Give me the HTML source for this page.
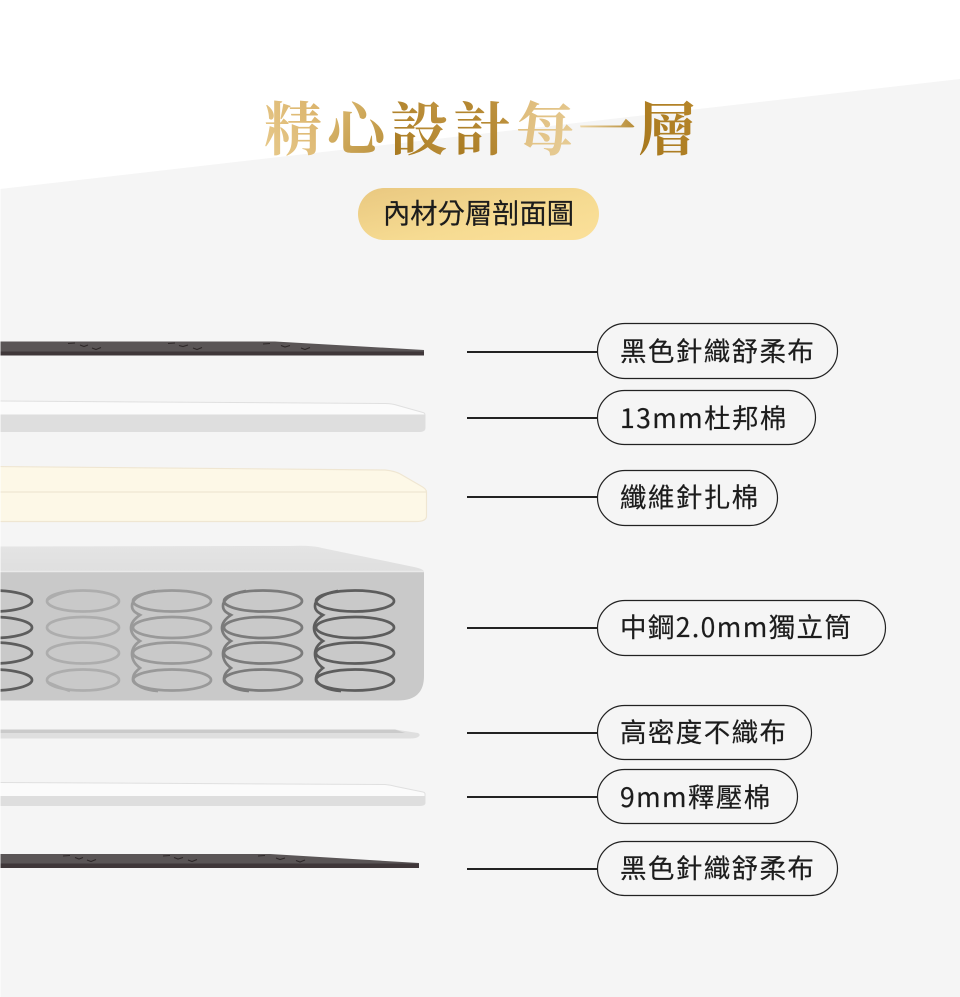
<!DOCTYPE html>
<html lang="zh-Hant"><head><meta charset="utf-8"><style>
html,body{margin:0;padding:0;background:#fff;width:960px;height:997px;overflow:hidden}
svg{display:block}
.l{font-family:"Noto Sans CJK TC","Liberation Sans",sans-serif;font-size:26.5px;font-weight:400;letter-spacing:1.400px;fill:#1c1c1c;stroke:#1c1c1c;stroke-width:.2px}
.t{font-family:"Noto Serif CJK TC","Noto Serif CJK SC",serif;font-size:58px;font-weight:700}
</style></head><body>
<svg width="960" height="997" viewBox="0 0 960 997" xmlns="http://www.w3.org/2000/svg">
<defs>
<linearGradient id="g1" x1="0" y1="1" x2="1" y2="0"><stop offset="0" stop-color="#e8cb8e"/><stop offset="1" stop-color="#d9b066"/></linearGradient>
<linearGradient id="g2" x1="0" y1="0" x2="1" y2="1"><stop offset="0" stop-color="#e3c27c"/><stop offset="1" stop-color="#b58a34"/></linearGradient>
<linearGradient id="g3" x1="0" y1="1" x2="1" y2="0"><stop offset="0" stop-color="#a5761c"/><stop offset="1" stop-color="#c59a48"/></linearGradient>
<linearGradient id="g4" x1="0" y1="0" x2="1" y2="1"><stop offset="0" stop-color="#ddb874"/><stop offset="1" stop-color="#e8cf9a"/></linearGradient>
<linearGradient id="g5" x1="0" y1="0" x2="1" y2="0"><stop offset="0" stop-color="#eed8a8"/><stop offset="1" stop-color="#b58a34"/></linearGradient>
<linearGradient id="g6" x1="0" y1="1" x2="1" y2="0"><stop offset="0" stop-color="#a5761c"/><stop offset="1" stop-color="#b9882c"/></linearGradient>
<linearGradient id="p" x1="0" y1="0" x2="1" y2="1"><stop offset="0" stop-color="#e9c880"/><stop offset=".6" stop-color="#f6db92"/><stop offset="1" stop-color="#fbe09a"/></linearGradient>
<linearGradient id="top" x1="0" y1="0" x2="0" y2="1"><stop offset="0" stop-color="#e4e4e4"/><stop offset="1" stop-color="#dfdfdf"/></linearGradient>
</defs>

<rect width="960" height="997" fill="#fff"/>
<polygon points="0,189 960,79 960,997 0,997" fill="#f5f5f5"/>

<text class="t" x="264" y="150" fill="url(#g1)">精</text>
<text class="t" x="327" y="150" fill="url(#g2)">心</text>
<text class="t" x="390" y="150" fill="url(#g3)">設</text>
<text class="t" x="453" y="150" fill="url(#g3)">計</text>
<text class="t" x="516" y="150" fill="url(#g4)">每</text>
<text class="t" x="578" y="150" fill="url(#g5)">一</text>
<text class="t" x="638" y="150" fill="url(#g6)">層</text>

<rect x="358" y="188" width="241" height="52" rx="26" fill="url(#p)"/>
<text class="l" x="383" y="223" style="font-size:27.300px;letter-spacing:0">內材分層剖面圖</text>

<!-- top dark -->
<path d="M0,341.500H275L424,350V355.500H0Z" fill="#5a5556"/>
<rect x="0" y="351.500" width="424" height="4" fill="#3f3739"/>
<path d="M68,343.500l7,-.5M80,345l4,1.500 4,-1.500M92,348l4,1.500 5,-2M168,343.500l7,-.5M179,345.500l4,1 5,-1.500M193,348l4,1.500 5,-2M263,344l7,-.5M281,345.500l4,1.500 5,-1.500M301,348l4,1.500 5,-2" fill="none" stroke="#2e2829" stroke-width="1.100"/>

<!-- 13mm -->
<path d="M-5,401L385,403.500Q392,403.500 398,405.500L423,412.500Q425,413 425,415V428Q425,431.500 419,431.500H-5Z" fill="#fbfbfb" stroke="#e0e0e0" stroke-width="1"/>
<path d="M0,414.500H425V428Q425,431.500 419,431.800H0Z" fill="#dedede"/>

<!-- yellow -->
<path d="M-5,466.500L385,470Q396,471 402,475L421,486Q426.500,489 426.500,492V516Q426.500,521.500 416,521.500H-5Z" fill="#fdf8e7" stroke="#efe6d2" stroke-width="1.200"/>
<line x1="0" y1="492" x2="426" y2="492" stroke="#efe6d2" stroke-width="1.200"/>

<!-- springs block -->
<path d="M0,546.500L290,546Q312,545 322,548L414,567Q424,569 424,572H0Z" fill="url(#top)"/>
<path d="M0,572H424V676Q424,700.500 398,700.500H0Z" fill="#c9c9c9"/>
<line x1="0" y1="571.500" x2="424" y2="571.500" stroke="#eaeaea" stroke-width="1.500"/>

<g fill="none" stroke-width="2.700">
<g stroke="#5d5d5d">
<ellipse cx="-7" cy="601" rx="39" ry="10.500"/><ellipse cx="-7" cy="627.500" rx="39" ry="10.500"/><ellipse cx="-7" cy="653" rx="39" ry="10.500"/><ellipse cx="-7" cy="680" rx="39" ry="10.500"/>
</g>
<g stroke="#adadad">
<ellipse cx="83" cy="601" rx="36" ry="10.500"/><ellipse cx="83" cy="627.500" rx="36" ry="10.500"/><ellipse cx="83" cy="653" rx="36" ry="10.500"/><ellipse cx="83" cy="680" rx="36" ry="10.500"/>
<path d="M47,600Q55,594 70,591M47,682Q58,687 70,691"/>
</g>
<g stroke="#999">
<ellipse cx="172" cy="601" rx="39" ry="10.500"/><ellipse cx="172" cy="627.500" rx="39" ry="10.500"/><ellipse cx="172" cy="653" rx="39" ry="10.500"/><ellipse cx="172" cy="680" rx="39" ry="10.500"/>
<path d="M155,591C138,594 132,600 132,606C132,611 136,613 140,615C134,619 131,623 131,628C131,634 135,638 140,641C134,645 132,649 132,654C132,660 136,665 140,668C135,672 133,675 133,679C135,686 145,690 158,691"/>
</g>
<g stroke="#7b7b7b">
<ellipse cx="263" cy="601" rx="39" ry="10.500"/><ellipse cx="263" cy="627.500" rx="39" ry="10.500"/><ellipse cx="263" cy="653" rx="39" ry="10.500"/><ellipse cx="263" cy="680" rx="39" ry="10.500"/>
<path d="M246,591C229,594 223,600 223,606C223,611 227,613 231,615C225,619 222,623 222,628C222,634 226,638 231,641C225,645 223,649 223,654C223,660 227,665 231,668C226,672 224,675 224,679C226,686 236,690 249,691"/>
</g>
<g stroke="#5d5d5d">
<ellipse cx="355" cy="601" rx="39" ry="10.500"/><ellipse cx="355" cy="627.500" rx="39" ry="10.500"/><ellipse cx="355" cy="653" rx="39" ry="10.500"/><ellipse cx="355" cy="680" rx="39" ry="10.500"/>
<path d="M338,591C321,594 315,600 315,606C315,611 319,613 323,615C317,619 314,623 314,628C314,634 318,638 323,641C317,645 315,649 315,654C315,660 319,665 323,668C318,672 316,675 316,679C318,686 328,690 341,691"/>
</g>
</g>

<!-- nonwoven -->
<path d="M0,729.500H395L418,733Q421.500,735 418,737Q416,738.500 410,738.500H0Z" fill="#dfdfdf"/>
<path d="M0,729.500H395L405,733H0Z" fill="#cacaca"/>

<!-- 9mm -->
<path d="M-5,782.500L385,784.500Q391,785 396,786.500L423,792Q425,792.500 425,794V803Q425,805.500 419,805.500H-5Z" fill="#fbfbfb" stroke="#e0e0e0" stroke-width="1"/>
<path d="M0,796H425V803Q425,805.500 419,805.800H0Z" fill="#dedede"/>

<!-- bottom dark -->
<path d="M0,854H270L419,863V868H0Z" fill="#5a5556"/>
<rect x="0" y="863.500" width="419" height="4.500" fill="#3f3739"/>
<path d="M63,856l7,-.5M75,857.500l4,1.500 4,-1.500M87,860l4,1.500 5,-2M163,856l7,-.5M174,857.500l4,1.500 5,-1.500M188,860l4,1.500 5,-2M258,856l7,-.5M276,858l4,1.500 5,-1.500M296,860.500l4,1.500 5,-2" fill="none" stroke="#2e2829" stroke-width="1.100"/>

<rect x="0" y="189" width="1" height="808" fill="#fff" opacity=".5"/>

<!-- leader lines -->
<g stroke="#222" stroke-width="2">
<line x1="467" y1="352" x2="598" y2="352"/>
<line x1="467" y1="418" x2="598" y2="418"/>
<line x1="467" y1="497" x2="598" y2="497"/>
<line x1="467" y1="628" x2="598" y2="628"/>
<line x1="467" y1="733" x2="598" y2="733"/>
<line x1="467" y1="797" x2="598" y2="797"/>
<line x1="467" y1="869" x2="598" y2="869"/>
</g>

<!-- pills -->
<g fill="#f5f5f5" stroke="#222" stroke-width="1.200">
<rect x="597.500" y="323.500" width="240" height="55" rx="27.500"/>
<rect x="597.500" y="390.500" width="218" height="54" rx="27"/>
<rect x="597.500" y="470.500" width="180" height="55" rx="27.500"/>
<rect x="597.500" y="600.500" width="288" height="55" rx="27.500"/>
<rect x="597.500" y="705.500" width="214" height="54" rx="27"/>
<rect x="597.500" y="769.500" width="200" height="54" rx="27"/>
<rect x="597.500" y="841.500" width="240" height="54" rx="27"/>
</g>
<text class="l" x="620" y="361">黑色針織舒柔布</text>
<text class="l" x="620" y="428">13mm杜邦棉</text>
<text class="l" x="620" y="507">纖維針扎棉</text>
<text class="l" x="620" y="637">中鋼2.0mm獨立筒</text>
<text class="l" x="620" y="742">高密度不織布</text>
<text class="l" x="620" y="807">9mm釋壓棉</text>
<text class="l" x="620" y="878">黑色針織舒柔布</text>
</svg>
</body></html>
